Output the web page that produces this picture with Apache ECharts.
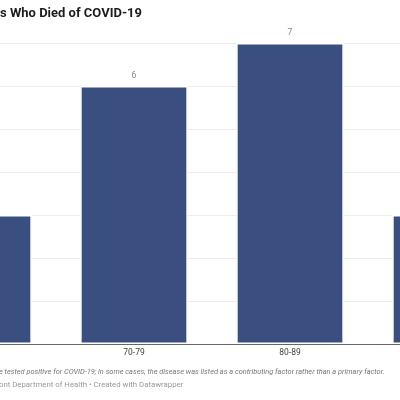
<!DOCTYPE html>
<html lang="en">
<head>
    <meta charset="utf-8">
    <style>
        html, body { margin: 0; padding: 0; background: #fff; overflow: hidden; }
        #wrap { position: relative; width: 400px; height: 400px; overflow: hidden; }
        /* the reference is a crop of a wider chart, so draw it wider and shift it */
        #chart { position: absolute; left: -100px; top: 0; width: 624px; height: 400px; }
    </style>
</head>
<body>
<div id="wrap"><div id="chart"></div></div>
<script src="https://cdn.jsdelivr.net/npm/echarts@6/dist/echarts.min.js"></script>
<script>
    // age groups (the outer ones are only partly visible in the crop)
    var ageGroups = ['60-69', '70-79', '80-89', '90+'];
    var deaths = [3, 6, 7, 3];
    var yTicks = [0, 1, 2, 3, 4, 5, 6, 7];

    var titleText = 's Who Died of COVID-19';
    var noteText = 'e tested positive for COVID-19; in some cases, the disease was listed as a contributing factor rather than a primary factor.';
    var sourceText = 'ont Department of Health \u2022 Created with Datawrapper';

    var shift = 100;
    var chart = echarts.init(document.getElementById('chart'));
    chart.setOption({
        animation: false,
        textStyle: { fontFamily: 'Roboto' },
        title: [
            {
                text: titleText,
                left: shift, top: 7, padding: 0,
                textStyle: { fontSize: 13, fontWeight: 'bold', color: '#1d1d1d', fontFamily: 'Roboto' }
            },
            {
                text: noteText,
                left: shift - 1, top: 369, padding: 0,
                textStyle: { fontSize: 7.4, fontStyle: 'italic', fontWeight: 'normal', color: '#777', fontFamily: 'Roboto' }
            },
            {
                text: sourceText,
                left: shift - 1, top: 381, padding: 0,
                textStyle: { fontSize: 7.8, fontWeight: 'normal', color: '#999', fontFamily: 'Roboto' }
            }
        ],
        grid: { left: 0, right: 0, top: 43, bottom: 56, containLabel: false },
        xAxis: {
            type: 'category',
            data: ageGroups,
            axisLine: { lineStyle: { color: '#666', width: 1 } },
            axisTick: { show: false },
            axisLabel: { color: '#444', fontSize: 8.5, margin: 4 }
        },
        yAxis: {
            type: 'value',
            min: yTicks[0],
            max: yTicks[yTicks.length - 1],
            interval: 1,
            axisLabel: { show: false },
            axisLine: { show: false },
            axisTick: { show: false },
            splitLine: { lineStyle: { color: '#ededed' } }
        },
        series: [{
            type: 'bar',
            data: deaths,
            barCategoryGap: '31%',
            itemStyle: { color: '#3a4f7f', borderColor: '#fff', borderWidth: 1.5 },
            label: {
                show: true,
                position: 'top',
                distance: 6,
                color: '#888',
                fontSize: 8.5
            }
        }]
    });
</script>
</body>
</html>
